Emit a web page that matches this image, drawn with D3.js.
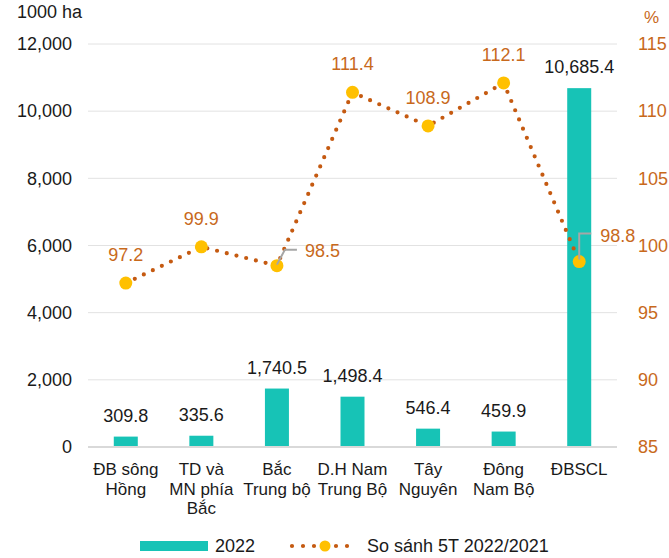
<!DOCTYPE html>
<html>
<head>
<meta charset="utf-8">
<script src="https://cdn.jsdelivr.net/npm/d3@7"></script>
<style>
  html, body { margin: 0; padding: 0; background: #fff; }
  svg { display: block; font-family: "Liberation Sans", Arial, sans-serif; }
</style>
</head>
<body>
<svg id="chart" width="669" height="558"></svg>
<script>
const categories = ["ĐB sông\nHồng", "TD và\nMN phía\nBắc", "Bắc\nTrung bộ", "D.H Nam\nTrung Bộ", "Tây\nNguyên", "Đông\nNam Bộ", "ĐBSCL"];
const area2022 = [309.8, 335.6, 1740.5, 1498.4, 546.4, 459.9, 10685.4];
const compare = [97.2, 99.9, 98.5, 111.4, 108.9, 112.1, 98.8];
const leftTicks = [0, 2000, 4000, 6000, 8000, 10000, 12000];
const rightTicks = [85, 90, 95, 100, 105, 110, 115];
const seriesNames = ["2022", "So sánh 5T 2022/2021"];
const leftUnit = "1000 ha";
const rightUnit = "%";

const barColor = "#17C3B6";
const lineColor = "#C55A11";
const markerColor = "#FFC000";
const orangeText = "#C8691C";
const darkText = "#1a1a1a";

const svg = d3.select("#chart");
const plotL = 88, plotR = 617, plotT = 44, plotB = 447;

const x = d3.scaleBand().domain(categories).range([plotL, plotR]).padding(0);
const yL = d3.scaleLinear().domain([0, 12000]).range([plotB, plotT]);
const yR = d3.scaleLinear().domain([85, 115]).range([plotB, plotT]);
const barW = 24;
const cx = c => x(c) + x.bandwidth() / 2;

// gridlines
svg.append("g").selectAll("line").data(leftTicks.filter(d => d > 0)).join("line")
  .attr("x1", plotL).attr("x2", plotR)
  .attr("y1", d => yL(d)).attr("y2", d => yL(d))
  .attr("stroke", "#E2E2E2").attr("stroke-width", 1);

// left axis
const gL = svg.append("g").attr("transform", `translate(${plotL},0)`)
  .call(d3.axisLeft(yL).tickValues(leftTicks).tickSize(0).tickPadding(16).tickFormat(d3.format(",")));
gL.select(".domain").remove();
gL.selectAll("text").attr("font-size", 18).attr("fill", darkText).attr("font-family", "Liberation Sans, Arial, sans-serif");

// right axis
const gR = svg.append("g").attr("transform", `translate(${plotR},0)`)
  .call(d3.axisRight(yR).tickValues(rightTicks).tickSize(0).tickPadding(21).tickFormat(d3.format("d")));
gR.select(".domain").remove();
gR.selectAll("text").attr("font-size", 18).attr("fill", orangeText).attr("font-family", "Liberation Sans, Arial, sans-serif");

// unit labels
svg.append("text").attr("x", 17).attr("y", 18).attr("font-size", 18).attr("fill", darkText).text(leftUnit);
svg.append("text").attr("x", 644).attr("y", 23).attr("font-size", 17).attr("fill", orangeText).text(rightUnit);

// bars
svg.append("g").selectAll("rect").data(area2022).join("rect")
  .attr("x", (d, i) => cx(categories[i]) - barW / 2)
  .attr("width", barW)
  .attr("y", d => yL(d))
  .attr("height", d => plotB - yL(d))
  .attr("fill", barColor);

// baseline axis
svg.append("line").attr("x1", plotL).attr("x2", plotR).attr("y1", plotB).attr("y2", plotB)
  .attr("stroke", "#D9D9D9").attr("stroke-width", 2);

// bar labels
svg.append("g").selectAll("text").data(area2022).join("text")
  .attr("x", (d, i) => cx(categories[i]))
  .attr("y", d => yL(d) - 15)
  .attr("text-anchor", "middle").attr("font-size", 18).attr("fill", darkText)
  .text(d => d3.format(",.1f")(d));

// category labels
const catG = svg.append("g");
categories.forEach(c => {
  const t = catG.append("text").attr("text-anchor", "middle").attr("font-size", 17).attr("fill", darkText);
  c.split("\n").forEach((ln, j) => {
    t.append("tspan").attr("x", cx(c)).attr("y", plotB + 28 + j * 19.5).text(ln);
  });
});

// line
const line = d3.line().x((d, i) => cx(categories[i])).y(d => yR(d));
svg.append("path").datum(compare).attr("d", line)
  .attr("fill", "none").attr("stroke", lineColor).attr("stroke-width", 4.2)
  .attr("stroke-linecap", "round").attr("stroke-dasharray", "0 10");

// markers
svg.append("g").selectAll("circle").data(compare).join("circle")
  .attr("cx", (d, i) => cx(categories[i])).attr("cy", d => yR(d))
  .attr("r", 6.5).attr("fill", markerColor);

// line labels
const leaderIdx = [2, 6];
compare.forEach((d, i) => {
  const px = cx(categories[i]), py = yR(d);
  if (i === 2) {
    svg.append("polyline").attr("points", `${px},${py - 1} ${px + 8},${py - 16} ${px + 20},${py - 16}`)
      .attr("fill", "none").attr("stroke", "#A6A6A6").attr("stroke-width", 2);
    svg.append("text").attr("x", px + 28).attr("y", py - 9).attr("font-size", 18).attr("fill", orangeText).text(d3.format(".1f")(d));
  } else if (i === 6) {
    svg.append("polyline").attr("points", `${px},${py - 2} ${px},${py - 28} ${px + 12},${py - 28}`)
      .attr("fill", "none").attr("stroke", "#A6A6A6").attr("stroke-width", 2);
    svg.append("text").attr("x", px + 21).attr("y", py - 20).attr("font-size", 18).attr("fill", orangeText).text(d3.format(".1f")(d));
  } else {
    svg.append("text").attr("x", px).attr("y", py - 22).attr("text-anchor", "middle")
      .attr("font-size", 18).attr("fill", orangeText).text(d3.format(".1f")(d));
  }
});

// legend
const lg = svg.append("g");
lg.append("rect").attr("x", 140).attr("y", 541).attr("width", 68).attr("height", 10).attr("fill", barColor);
lg.append("text").attr("x", 215).attr("y", 552).attr("font-size", 18).attr("fill", darkText).text(seriesNames[0]);
lg.append("line").attr("x1", 292).attr("x2", 358).attr("y1", 546).attr("y2", 546)
  .attr("stroke", lineColor).attr("stroke-width", 4.2).attr("stroke-linecap", "round").attr("stroke-dasharray", "0 11");
lg.append("circle").attr("cx", 325).attr("cy", 546).attr("r", 5.5).attr("fill", markerColor);
lg.append("text").attr("x", 367).attr("y", 552).attr("font-size", 18).attr("fill", darkText).text(seriesNames[1]);
</script>
</body>
</html>
